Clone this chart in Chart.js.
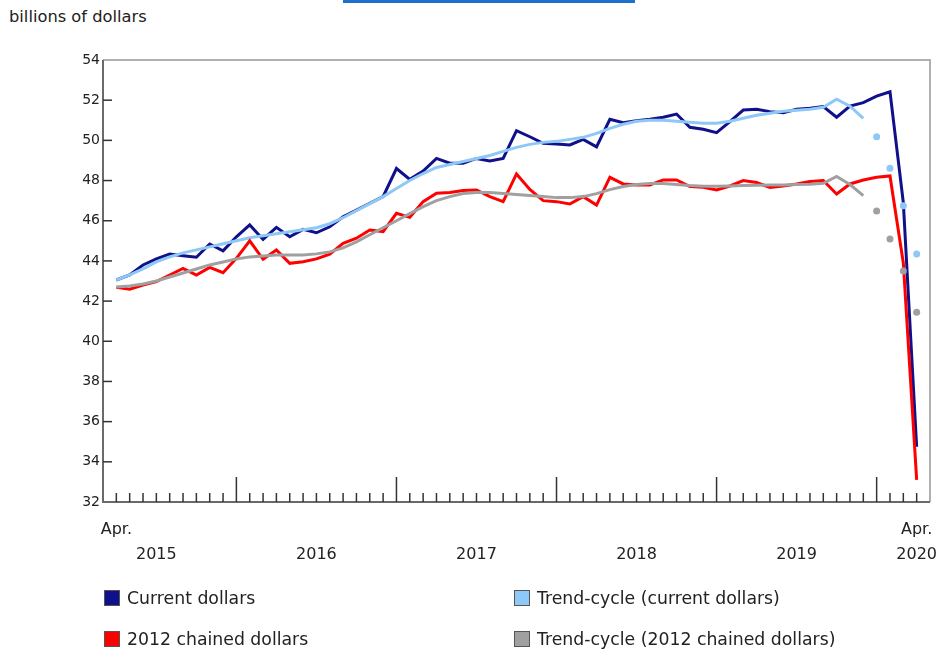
<!DOCTYPE html>
<html lang="en">
<head>
    <meta charset="UTF-8">
    <title>Retail sales - current and chained dollars</title>
    <script src="https://cdn.jsdelivr.net/npm/chart.js"></script>
    <style>
        body {
            margin: 0;
            background: #fff;
            font-family: "DejaVu Sans", Verdana, sans-serif;
            color: #222;
        }
        .wrap {
            position: relative;
            width: 939px;
            height: 650px;
        }
        .topbar {
            position: absolute;
            left: 343px;
            top: 0;
            width: 292px;
            height: 3px;
            background: #1f6fcf;
        }
        .unit {
            position: absolute;
            left: 9px;
            top: 7px;
            font-size: 16.3px;
        }
        canvas {
            position: absolute;
            left: 0;
            top: 0;
        }
        .legend-item {
            position: absolute;
            font-size: 17.3px;
            line-height: 18px;
            white-space: nowrap;
        }
        .legend-item span.box {
            display: inline-block;
            width: 14px;
            height: 14px;
            border: 1px solid #555;
            vertical-align: -2px;
            margin-right: 7px;
        }
    </style>
</head>
<body>
<div class="wrap">
    <div class="topbar"></div>
    <div class="unit">billions of dollars</div>
    <canvas id="chart" width="939" height="650"></canvas>
    <div id="legend"></div>
</div>

<script>
    // months Apr. 2015 .. Apr. 2020
    const monthNames = ['Jan.', 'Feb.', 'Mar.', 'Apr.', 'May', 'Jun.', 'Jul.', 'Aug.', 'Sep.', 'Oct.', 'Nov.', 'Dec.'];
    const months = [];
    for (let i = 0; i < 61; i++) {
        months.push(monthNames[(i + 3) % 12] + ' ' + (2015 + Math.floor((i + 3) / 12)));
    }

    const currentDollars = [
        43.05, 43.3, 43.8, 44.1, 44.34, 44.26, 44.18, 44.84, 44.5, 45.2,
        45.79, 45.07, 45.67, 45.2, 45.57, 45.4, 45.7, 46.2, 46.53, 46.87,
        47.2, 48.6, 48.06, 48.47, 49.1, 48.86, 48.86, 49.1, 48.97, 49.1,
        50.48, 50.18, 49.85, 49.82, 49.77, 50.05, 49.68, 51.05, 50.88, 50.98,
        51.05, 51.15, 51.31, 50.65, 50.55, 50.38, 50.93, 51.51, 51.55, 51.43,
        51.38, 51.55, 51.6, 51.68, 51.15, 51.71, 51.88, 52.2, 52.42, 46.9,
        34.75
    ];
    const chainedDollars = [
        42.69, 42.59, 42.8, 42.97, 43.3, 43.63, 43.3, 43.68, 43.41, 44.13,
        45.0, 44.08, 44.54, 43.88, 43.96, 44.1, 44.34, 44.88, 45.13, 45.54,
        45.46, 46.37, 46.17, 46.95, 47.37, 47.4, 47.5, 47.53, 47.2, 46.95,
        48.33, 47.56, 47.0, 46.95, 46.83, 47.2, 46.78, 48.16, 47.83, 47.78,
        47.78, 48.03, 48.03, 47.7, 47.66, 47.53, 47.73, 48.0, 47.9, 47.66,
        47.73, 47.83, 47.95, 48.0, 47.33, 47.83, 48.03, 48.16, 48.23, 43.9,
        33.1
    ];
    // trend-cycle: solid to Dec. 2019, then dotted estimates
    const trendCurrent = [
        43.05, 43.3, 43.6, 43.95, 44.2, 44.4, 44.55, 44.7, 44.85, 45.0,
        45.15, 45.25, 45.35, 45.45, 45.55, 45.65, 45.85, 46.15, 46.5, 46.85,
        47.2, 47.6, 48.0, 48.35, 48.65, 48.8, 48.95, 49.1, 49.25, 49.45,
        49.65, 49.8, 49.9, 49.95, 50.05, 50.15, 50.35, 50.6, 50.8, 50.95,
        51.0, 51.0, 50.95, 50.9, 50.85, 50.85, 50.95, 51.1, 51.25, 51.35,
        51.45, 51.5, 51.55, 51.65, 52.05, 51.7, 51.1
    ];
    const trendCurrentEnd = [50.18, 48.61, 46.75, 44.34];
    const trendChained = [
        42.7, 42.75, 42.85, 43.0, 43.2, 43.4, 43.6, 43.8, 43.95, 44.1,
        44.2, 44.25, 44.3, 44.3, 44.3, 44.35, 44.45, 44.65, 44.95, 45.3,
        45.65, 46.0, 46.35, 46.7, 47.0, 47.2, 47.35, 47.4, 47.4, 47.35,
        47.3, 47.25, 47.2, 47.15, 47.15, 47.2, 47.35, 47.55, 47.7, 47.8,
        47.85, 47.85, 47.8, 47.75, 47.72, 47.72, 47.73, 47.75, 47.77, 47.78,
        47.78, 47.8, 47.82, 47.86, 48.2, 47.8, 47.25
    ];
    const trendChainedEnd = [46.48, 45.09, 43.5, 41.44];

    const yTicks = [32, 34, 36, 38, 40, 42, 44, 46, 48, 50, 52, 54];
    const yearLabels = ['2015', '2016', '2017', '2018', '2019', '2020'];
    const yearLabelAt = [3, 15, 27, 39, 51, 60];

    const legendNames = ['Current dollars', 'Trend-cycle (current dollars)', '2012 chained dollars', 'Trend-cycle (2012 chained dollars)'];
    const colors = ['#10108a', '#8ec8f6', '#ff0000', '#a0a0a0'];

    const toXY = (arr, start) => arr.map((v, i) => ({x: i + (start || 0), y: v}));
    const endStart = trendCurrent.length;

    const axisPlugin = {
        id: 'axisDecor',
        afterDatasetsDraw(chart) {
            const ctx = chart.ctx;
            const a = chart.chartArea;
            const xs = chart.scales.x;
            const ys = chart.scales.y;
            ctx.save();
            // frame
            ctx.lineWidth = 2;
            ctx.strokeStyle = '#b0b0b0';
            ctx.beginPath();
            ctx.moveTo(a.left, a.top);
            ctx.lineTo(a.right, a.top);
            ctx.lineTo(a.right, a.bottom);
            ctx.stroke();
            ctx.strokeStyle = '#6a6a6a';
            ctx.beginPath();
            ctx.moveTo(a.left, a.top);
            ctx.lineTo(a.left, a.bottom);
            ctx.lineTo(a.right, a.bottom);
            ctx.stroke();

            // y ticks + labels
            ctx.lineWidth = 1.5;
            ctx.strokeStyle = '#333';
            ctx.fillStyle = '#222';
            ctx.font = '14px "DejaVu Sans"';
            ctx.textAlign = 'right';
            ctx.textBaseline = 'middle';
            yTicks.forEach(v => {
                const y = ys.getPixelForValue(v);
                if (v !== yTicks[0] && v !== yTicks[yTicks.length - 1]) {
                    ctx.beginPath();
                    ctx.moveTo(a.left, y);
                    ctx.lineTo(a.left + 9, y);
                    ctx.stroke();
                }
                ctx.fillText(String(v), a.left - 3, y);
            });

            // x ticks, months upward, January longer
            months.forEach((m, i) => {
                const x = xs.getPixelForValue(i);
                const len = m.startsWith('Jan.') ? 25 : 9;
                ctx.beginPath();
                ctx.moveTo(x, a.bottom);
                ctx.lineTo(x, a.bottom - len);
                ctx.stroke();
            });

            // x labels
            ctx.textAlign = 'center';
            ctx.font = '16px "DejaVu Sans"';
            ctx.fillText('Apr.', xs.getPixelForValue(0), a.bottom + 28);
            ctx.fillText('Apr.', xs.getPixelForValue(60), a.bottom + 28);
            yearLabels.forEach((t, i) => {
                ctx.fillText(t, xs.getPixelForValue(yearLabelAt[i]), a.bottom + 53);
            });
            ctx.restore();
        }
    };

    const line = (label, data, color, order) => ({
        label: label,
        data: data,
        borderColor: color,
        backgroundColor: color,
        borderWidth: 3,
        pointRadius: 0,
        tension: 0,
        order: order
    });
    const dots = (label, data, color) => ({
        label: label,
        data: data,
        showLine: false,
        borderColor: color,
        backgroundColor: color,
        pointRadius: 3.5,
        pointBorderWidth: 0,
        order: 0
    });

    new Chart(document.getElementById('chart'), {
        type: 'line',
        data: {
            datasets: [
                line(legendNames[0], toXY(currentDollars), colors[0], 4),
                line(legendNames[1], toXY(trendCurrent), colors[1], 3),
                line(legendNames[2], toXY(chainedDollars), colors[2], 2),
                line(legendNames[3], toXY(trendChained), colors[3], 1),
                dots(legendNames[1], toXY(trendCurrentEnd, endStart), colors[1]),
                dots(legendNames[3], toXY(trendChainedEnd, endStart), colors[3])
            ]
        },
        options: {
            responsive: false,
            animation: false,
            layout: {padding: {left: 103, right: 9, top: 60, bottom: 148}},
            plugins: {legend: {display: false}, tooltip: {enabled: false}},
            scales: {
                x: {type: 'linear', min: -1, max: 61, display: false},
                y: {min: 32, max: 54, display: false}
            }
        },
        plugins: [axisPlugin]
    });

    // legend, two columns
    const legendPos = [[104, 589], [514, 589], [104, 630], [514, 630]];
    const legend = document.getElementById('legend');
    legendNames.forEach((name, i) => {
        const d = document.createElement('div');
        d.className = 'legend-item';
        d.style.left = legendPos[i][0] + 'px';
        d.style.top = legendPos[i][1] + 'px';
        d.innerHTML = '<span class="box" style="background:' + colors[i] + '"></span>' + name;
        legend.appendChild(d);
    });
</script>
</body>
</html>
